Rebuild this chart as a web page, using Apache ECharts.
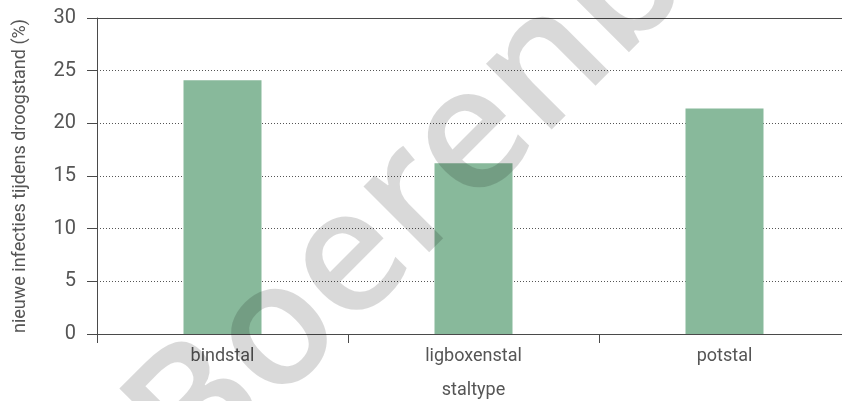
<!DOCTYPE html>
<html>
<head>
<meta charset="utf-8">
<script src="https://cdn.jsdelivr.net/npm/echarts@6/dist/echarts.min.js"></script>
<style>
  html, body { margin: 0; padding: 0; background: #fff; }
  #chart { width: 842px; height: 401px; }
</style>
</head>
<body>
<div id="chart"></div>
<script>
const categories = ['bindstal', 'ligboxenstal', 'potstal'];
const infections = [24.1, 16.2, 21.4];
const yTicks = [0, 5, 10, 15, 20, 25, 30];
const yAxisTitle = 'nieuwe infecties tijdens droogstand (%)';
const xAxisTitle = 'staltype';
const watermark = 'Boerenbusiness';

const textColor = '#555555';
const axisColor = '#4a4a4a';
const fontFamily = 'Roboto, "Noto Sans", sans-serif';

const chart = echarts.init(document.getElementById('chart'), null, { renderer: 'canvas' });
chart.setOption({
  animation: false,
  backgroundColor: '#ffffff',
  grid: { left: 97, top: 18, width: 753, height: 316, containLabel: false, outerBoundsMode: 'none' },
  xAxis: [{
    type: 'category',
    data: categories,
    position: 'bottom',
    name: xAxisTitle,
    nameLocation: 'middle',
    nameGap: 47,
    nameTextStyle: { color: textColor, fontSize: 18, fontFamily: fontFamily },
    axisLine: { show: true, lineStyle: { color: axisColor, width: 1 } },
    axisTick: { show: true, length: 9, alignWithLabel: false, lineStyle: { color: axisColor } },
    axisLabel: { color: textColor, fontSize: 18, fontFamily: fontFamily, margin: 13 },
    splitLine: { show: false }
  }, {
    type: 'category',
    data: categories,
    position: 'top',
    axisLine: { show: true, lineStyle: { color: axisColor, width: 1 } },
    axisTick: { show: false },
    axisLabel: { show: false },
    splitLine: { show: false }
  }],
  yAxis: {
    type: 'value',
    min: yTicks[0],
    max: yTicks[yTicks.length - 1],
    interval: yTicks[1] - yTicks[0],
    name: yAxisTitle,
    nameLocation: 'middle',
    nameGap: 68,
    nameRotate: 90,
    nameTextStyle: { color: textColor, fontSize: 18, fontFamily: fontFamily },
    axisLine: { show: true, lineStyle: { color: axisColor, width: 1 } },
    axisTick: { show: true, length: 10, lineStyle: { color: axisColor } },
    axisLabel: { color: textColor, fontSize: 20, fontFamily: fontFamily, margin: 21 },
    splitLine: { show: true, lineStyle: { color: '#555555', type: [1, 2], width: 1 } }
  },
  series: [{
    type: 'bar',
    data: infections,
    barWidth: 78,
    itemStyle: { color: '#88b99b' },
    z: 2
  }],
  graphic: [{
    type: 'text',
    x: 160,
    y: 452,
    rotation: Math.PI / 4,
    z: 100,
    silent: true,
    style: {
      text: watermark,
      fill: 'rgba(0,0,0,0.15)',
      fontSize: 172,
      fontFamily: '"Open Sans", sans-serif',
      fontWeight: 600,
      align: 'left',
      verticalAlign: 'middle'
    }
  }]
});
</script>
</body>
</html>
